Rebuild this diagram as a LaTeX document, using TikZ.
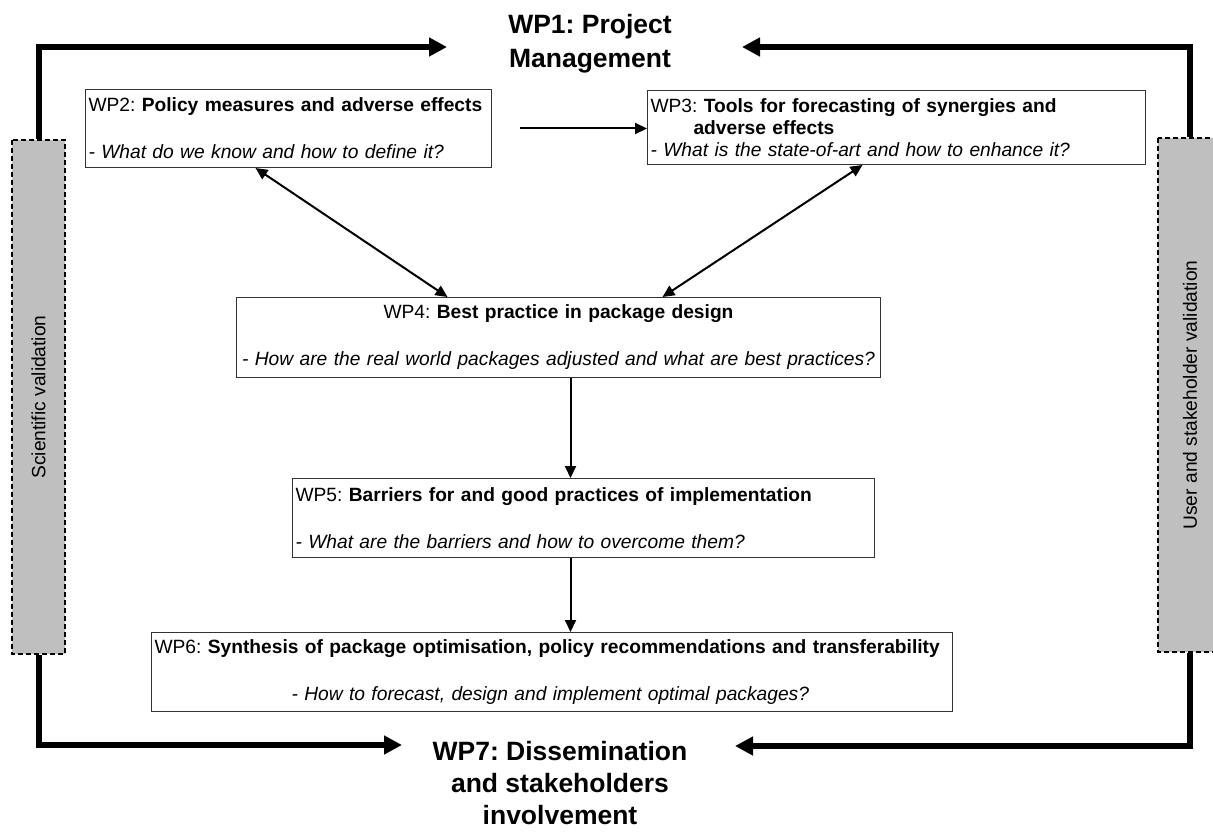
\documentclass[tikz,border=0pt]{standalone}
\usepackage{fontspec}
\setmainfont{Liberation Sans}
\frenchspacing
\usetikzlibrary{arrows.meta}

\tikzset{
  wpbox/.style={draw=black!80, line width=1pt, anchor=north west, inner xsep=3pt, inner ysep=0pt, align=left, font=\fontsize{19.2}{23.5}\selectfont},
  valbox/.style={draw, fill=black!25, line width=2pt, dash pattern=on 5pt off 3pt, rotate=90, minimum width=514pt, font=\fontsize{19.2}{23.5}\selectfont},
  heading/.style={font=\fontsize{26.5}{34}\selectfont\bfseries, align=center, inner sep=0pt, anchor=north},
  flow/.style={line width=6pt, -{Triangle[length=18pt,width=18pt]}},
  link/.style={line width=2pt, -{Triangle[length=12pt,width=11pt]}},
  twoway/.style={line width=2pt, {Triangle[length=12pt,width=11pt]}-{Triangle[length=12pt,width=11pt]}}
}

\begin{document}
\begin{tikzpicture}[x=1pt, y=-1pt]
\useasboundingbox (0,0) rectangle (1213,832);

\node[heading] (wp1) at (590,14) {WP1: Project\\Management};
\node[heading, font=\fontsize{26.5}{32}\selectfont\bfseries] (wp7) at (560,741) {WP7: Dissemination\\and stakeholders\\involvement};

\node[valbox, minimum height=53pt] (sci) at (38.5,397) {Scientific validation};
\node[valbox, minimum height=64pt] (usr) at (1190,395) {User and stakeholder validation};

\node[wpbox, minimum width=406pt, minimum height=78pt, text width=400pt] (wp2) at (85,89)
  {WP2: \textbf{Policy measures and adverse effects}\\[23.5pt]\textit{- What do we know and how to define it?}};
\node[wpbox, minimum width=498pt, minimum height=74pt, text width=492pt, font=\fontsize{19.2}{22}\selectfont] (wp3) at (647,90)
  {WP3: \textbf{Tools for forecasting of synergies and}\\\hspace*{43pt}\textbf{adverse effects}\\\textit{- What is the state-of-art and how to enhance it?}};
\node[wpbox, minimum width=644pt, minimum height=80pt, text width=638pt, align=center] (wp4) at (236,297)
  {WP4: \textbf{Best practice in package design}\\[23.5pt]\textit{- How are the real world packages adjusted and what are best practices?}};
\node[wpbox, minimum width=582pt, minimum height=79pt, text width=576pt] (wp5) at (292,478)
  {WP5: \textbf{Barriers for and good practices of implementation}\\[23.5pt]\textit{- What are the barriers and how to overcome them?}};
\node[wpbox, minimum width=801pt, minimum height=79pt, text width=795pt] (wp6) at (151,632)
  {WP6: \textbf{Synthesis of package optimisation, policy recommendations and transferability}\\[23.5pt]\hspace*{137pt}\textit{- How to forecast, design and implement optimal packages?}};

\coordinate (wp1l) at (447,47);
\coordinate (wp1r) at (742,47);
\coordinate (wp7l) at (402,745);
\coordinate (wp7r) at (735,746);

\draw[flow] (sci.east) |- (wp1l);
\draw[flow] (usr.east) |- (wp1r);
\draw[flow] (sci.west) |- (wp7l);
\draw[flow] (usr.west) |- (wp7r);

\draw[link] ([xshift=28pt]wp2.east) -- (wp2.east -| wp3.west);
\draw[twoway] ([xshift=-33pt]wp2.south) -- ([xshift=-111pt]wp4.north);
\draw[twoway] ([xshift=-34pt]wp3.south) -- ([xshift=104pt]wp4.north);
\draw[link] ([xshift=12pt]wp4.south) -- ([xshift=12pt]wp4.south |- wp5.north);
\draw[link] ([xshift=12pt]wp4.south |- wp5.south) -- ([xshift=12pt]wp4.south |- wp6.north);
\end{tikzpicture}
\end{document}
